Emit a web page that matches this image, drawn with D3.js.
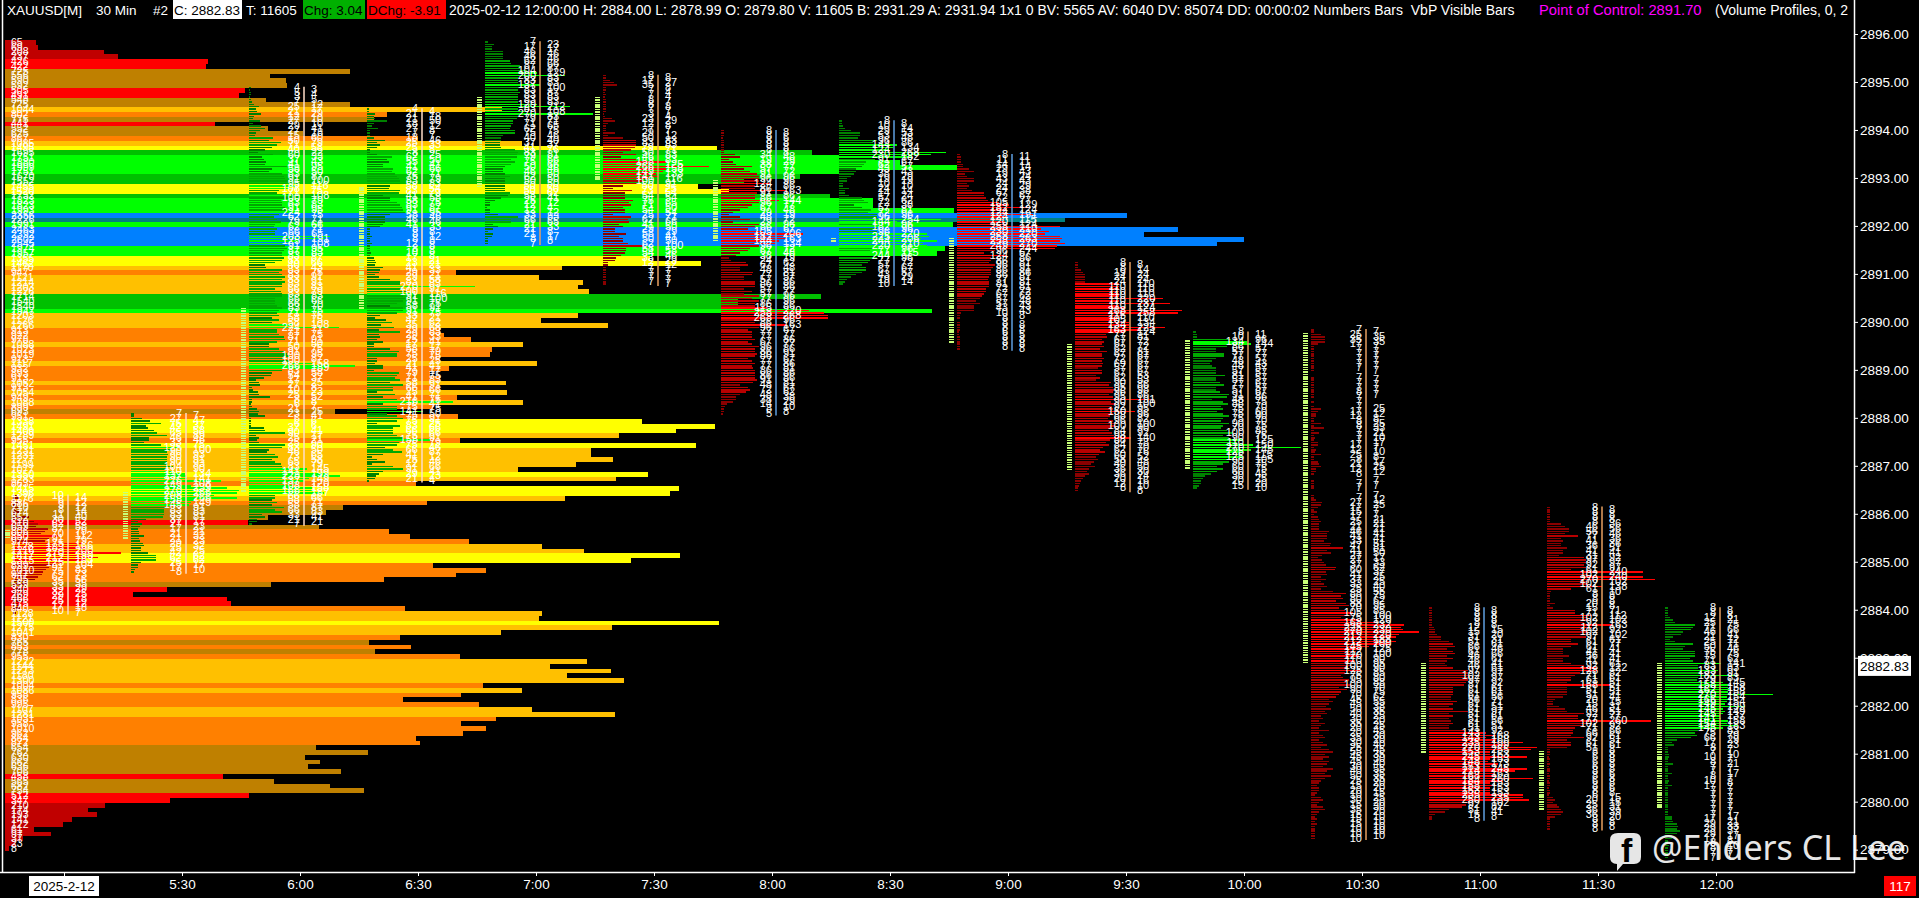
<!DOCTYPE html>
<html><head><meta charset="utf-8">
<script src="https://cdnjs.cloudflare.com/ajax/libs/d3/7.8.5/d3.min.js"></script>
<style>html,body{margin:0;padding:0;background:#000;overflow:hidden}svg{display:block;font-family:"Liberation Sans",Arial,sans-serif}</style>
</head><body><svg id="c" width="1919" height="898"></svg>
<script>
// ---- data ----
const priceTicks = d3.range(2879, 2897);
const barTimes = ["5:00","5:30","6:00","6:30","7:00","7:30","8:00","8:30","9:00","9:30","10:00","10:30","11:00","11:30","12:00"];
const barUp = [0,1,1,1,1,0,0,1,0,0,1,0,0,0,1];
const barTop = [2886.40,2888.10,2894.90,2894.45,2895.85,2895.15,2894.00,2894.20,2893.50,2891.25,2889.80,2889.85,2884.05,2886.15,2884.05];
const lineTone = ["p","p","p","p","o","o","b","b","b","o","o","o","b","o","o"];
const ladderHi = [2885.67,2886.46,2890.29,2892.81,2894.69,2894.69,2892.96,2891.75,2891.75,2889.54,2889.62,2889.77,2882.90,2881.06,2882.90];
const ladderLo = [2885.48,2885.48,2886.42,2890.27,2892.77,2892.92,2891.67,2891.67,2889.56,2886.90,2886.90,2882.85,2881.02,2879.83,2879.83];
const vbpTop = 2895.875;
const vbpVol = [65,69,208,237,426,422,725,556,590,592,505,491,548,725,1044,802,775,441,552,625,867,1085,1495,1695,1751,1880,1999,1751,1670,1552,1455,1520,1732,1823,1823,1993,2356,2226,1991,2463,2392,2602,2545,1974,1957,1355,1462,1170,947,1121,1214,1203,1226,1714,1540,1540,1947,1203,1126,1266,913,922,978,1088,1023,1019,913,1117,932,893,913,1052,913,1054,949,1088,899,693,951,1338,1491,1409,1289,955,1451,1231,1231,1277,1199,1077,1350,1283,863,1415,1396,1176,886,710,674,552,510,659,806,850,974,1128,1216,1417,1315,899,1010,947,795,559,340,269,466,475,840,1128,1121,1500,1275,1041,830,765,853,778,955,1222,1144,1273,1180,1300,1004,1086,958,836,995,1107,1281,1031,958,1010,962,864,872,654,762,630,662,636,706,458,565,682,754,512,347,210,174,193,141,122,61,97,37,23,8];
const bar0500 = [10,14,6,12,9,12,8,14,11,40,30,52,62,58,87,79,70,112,91,79,175,166,183,200,270,190,212,183,125,104,91,83,75,73,62,56,35,35,33,29,32,25,29,18,25,12,17,18,10,7];
const bar0530 = [7,7,27,47,75,37,42,58,65,89,46,46,33,75,125,100,90,93,90,91,90,93,104,90,110,134,137,141,226,108,149,239,270,266,208,266,158,149,145,91,83,83,83,81,37,17,27,23,17,21,21,32,21,23,29,32,25,25,42,62,62,62,25,17,17,10,8];
const bar0600 = [4,3,5,4,3,5,7,12,25,17,21,29,12,10,27,10,29,41,27,18,15,60,50,79,71,58,40,22,60,33,37,43,41,95,58,50,83,87,91,100,95,116,108,75,71,108,100,79,83,83,91,95,224,75,62,71,79,66,62,71,66,65,203,191,125,108,91,95,87,83,83,87,83,66,40,43,83,75,83,91,83,91,83,83,66,79,83,83,66,66,66,70,83,75,71,75,58,75,58,108,224,71,71,75,87,91,71,50,50,75,91,95,100,87,100,158,266,189,83,58,54,37,17,25,27,8,10,23,25,52,8,8,6,7,21,25,23,41,6,6,6,6,37,41,90,17,25,21,25,90,83,50,46,65,73,58,65,79,83,145,141,199,228,149,137,120,108,158,166,187,66,66,58,71,58,87,66,83,33,41,21,21,7];
const bar0630 = [4,4,21,18,21,50,18,12,27,8,7,7,18,46,25,33,25,8,8,25,62,50,55,41,41,66,62,71,75,79,83,83,58,54,83,79,41,58,58,75,83,87,91,95,58,46,46,46,41,33,8,8,8,12,8,8,12,8,8,8,10,8,17,21,23,21,41,33,29,21,29,58,83,83,270,91,100,116,91,100,91,75,58,91,91,75,33,21,47,62,35,68,29,83,29,33,25,41,17,17,58,79,75,75,25,25,21,41,41,17,79,75,71,83,58,91,66,66,25,71,41,75,216,41,75,75,141,50,75,91,75,25,83,66,66,66,75,91,158,79,75,46,66,87,41,12,25,46,12,66,91,41,29,23,21,4];
const bar0700 = [7,23,17,17,46,46,46,46,62,66,87,87,104,129,200,83,83,83,137,100,83,87,83,83,83,83,129,212,83,108,270,83,79,71,71,65,62,75,75,46,40,40,37,37,41,76,83,81,79,66,75,66,50,46,46,50,62,50,50,50,50,50,50,62,58,41,25,12,12,4,12,12,33,83,66,65,21,33,21,8,21,17,8,8,7];
const bar0730 = [8,8,17,27,35,8,7,4,7,4,8,7,8,8,7,7,3,4,23,29,12,8,7,7,29,12,50,83,83,83,79,71,50,83,46,83,158,125,266,158,149,133,141,116,100,91,50,25,73,54,54,54,75,65,71,50,54,54,25,71,62,66,41,50,29,29,58,41,50,50,62,100,58,58,54,46,33,29,12,12,7,7,7,7,7,7,7,7];
const bar0800 = [8,8,8,6,8,8,8,8,8,8,34,48,19,29,38,77,57,72,91,96,96,96,124,86,86,163,91,86,86,144,96,77,67,48,29,19,48,72,29,96,86,67,105,206,182,163,144,134,96,72,67,48,38,19,24,62,67,48,48,81,77,57,57,86,86,86,57,77,57,96,77,96,86,86,115,220,258,268,268,96,86,163,96,67,77,77,77,86,67,77,96,86,86,91,86,67,77,86,77,81,86,86,86,86,91,81,48,67,72,62,48,38,38,29,14,10,8,8,5];
const bar0830 = [8,8,10,14,29,53,53,48,96,86,144,134,124,268,230,182,91,67,62,57,43,43,38,29,19,19,10,10,24,14,14,24,57,62,72,38,57,81,72,96,96,254,144,96,182,96,96,220,225,206,244,210,220,96,77,115,244,96,77,72,57,67,67,57,43,29,19,14,10];
const bar0900 = [8,11,11,11,14,14,29,43,19,24,43,43,24,29,24,38,67,67,72,77,105,129,182,124,124,191,124,115,120,124,258,210,230,220,258,263,258,270,249,244,96,67,124,86,86,81,96,91,86,86,86,81,77,81,81,81,72,72,67,62,57,48,57,43,43,43,10,8,8,0,8,8,8,8,6,5,8,8,8,8,8,8];
const bar0930 = [8,8,8,14,19,24,24,24,24,110,110,110,110,110,110,220,110,237,110,124,268,258,115,110,105,134,134,225,163,124,77,81,67,72,67,72,62,81,67,67,72,67,69,67,57,67,67,53,62,53,90,86,95,98,96,86,95,191,90,100,92,95,150,96,88,82,96,100,100,90,84,92,98,140,88,78,84,70,62,76,60,52,58,48,40,50,36,30,36,24,20,16,12,10,8,8];
const bar1000 = [8,11,10,96,134,144,86,57,57,77,77,57,48,43,48,57,57,57,81,57,57,67,77,57,57,67,91,86,48,75,88,70,75,60,75,90,75,70,90,75,70,85,100,75,90,125,110,150,270,145,125,115,125,105,90,75,60,75,60,45,30,25,20,20,15,10];
const bar1030 = [7,7,25,35,35,35,17,7,7,7,7,7,7,7,7,7,7,7,0,0,7,7,7,7,7,7,8,7,7,0,7,0,7,25,17,12,12,8,8,25,8,33,7,21,7,10,7,17,17,7,12,10,25,8,8,17,21,25,12,12,8,0,0,7,7,7,7,0,0,7,7,12,27,25,17,7,15,7,17,21,25,21,21,21,46,41,41,41,33,51,47,81,41,50,27,17,27,33,37,62,60,37,41,25,37,25,33,40,25,55,88,75,80,62,88,95,70,85,105,100,75,120,168,232,225,230,270,220,212,188,212,200,145,125,112,100,120,90,110,95,100,90,125,85,75,80,95,88,100,70,90,75,70,62,45,55,45,38,50,35,40,25,30,20,35,25,20,45,20,30,35,20,30,40,25,45,55,35,45,30,45,40,30,55,40,35,50,35,25,20,15,20,20,15,10,25,30,20,15,30,35,20,15,10,15,10,15,10,10,10,10,10,10];
const bar1100 = [8,8,8,8,8,8,8,8,12,15,15,20,31,31,51,61,66,46,61,66,46,61,46,41,46,61,97,97,102,97,97,92,87,61,61,61,61,56,56,71,61,51,61,97,51,61,51,56,61,51,51,92,143,168,143,168,235,199,270,255,153,153,245,153,148,173,153,245,214,163,168,260,184,153,158,153,153,153,235,235,250,102,92,82,51,41,15,8,8];
const bar1130 = [8,8,8,8,8,8,8,36,46,56,56,46,77,36,41,36,36,51,41,41,31,92,97,97,92,97,61,240,102,240,270,102,102,138,61,10,8,8,8,8,20,8,15,71,71,112,102,102,92,163,112,92,102,102,97,61,61,77,61,41,41,41,56,41,41,61,92,122,128,82,71,61,61,51,158,51,51,51,51,41,20,15,15,31,46,51,92,77,77,260,102,92,71,66,66,61,92,51,61,61,51,8,8,8,6,8,6,8,6,8,8,6,8,8,6,8,8,6,8,8,6,15,20,15,25,31,36,39,36,20,8,8,8,8,8];
const bar1200 = [8,8,8,8,12,21,25,75,71,66,46,41,21,12,25,71,50,46,75,75,75,62,71,141,83,83,133,91,183,83,79,145,158,158,162,158,270,154,166,154,149,199,145,149,145,137,141,158,154,183,145,83,75,79,66,29,17,23,8,7,7,10,10,7,8,21,7,7,7,17,8,7,10,8,17,7,7,7,7,7,7,7,7,7,7,7,7,17,17,21,29,33,29,37,29,17,17,8,8,10,8,7,7,7,7];
const barVols = [bar0500,bar0530,bar0600,bar0630,bar0700,bar0730,bar0800,bar0830,bar0900,bar0930,bar1000,bar1030,bar1100,bar1130,bar1200];
const headerLeft = ["XAUUSD[M]","30 Min","#2"];
const lastPrice = 2882.83;

// ---- scales ----
const parseT = d3.timeParse("%Y-%m-%d %H:%M");
const toT = s => parseT("2025-02-12 " + s);
const W = 1854, B = 872;
const x = d3.scaleTime().domain([toT("5:00"), toT("12:00")]).range([64, 1716]);
const y = d3.scaleLinear().domain([2896, 2879]).range([34, 34 + 17 * 47.98]);
const vbpX = d3.scaleLinear().domain([0, 2602]).range([5, 1244]);
const rowLen = d3.scaleLinear().domain([0, 270]).range([0, 108]);
const vbpColor = d3.scaleThreshold().domain([250,530,790,1035,1305,1525,1745,2100,2300])
  .range(["#c00000","#ff0000","#bf8000","#ff8000","#ffc000","#ffff00","#00c000","#00ff00","#008080","#0080ff"]);
const upColor = d3.scaleThreshold().domain([60,105]).range(["#008000","#00a800","#00ff00"]);
const dnColor = d3.scaleThreshold().domain([60,105]).range(["#8b0000","#b80000","#ff0000"]);
const toneColor = {p:"#ffdcc8", o:"#e8a060", b:"#5f9fe0"};
const tickStep = 0.05, vbpStep = 0.1;

const svg = d3.select("#c");
svg.append("rect").attr("width",1919).attr("height",898).attr("fill","#000");
const clip = svg.append("defs").append("clipPath").attr("id","plot").append("rect").attr("width",W).attr("height",898);
const plot = svg.append("g").attr("clip-path","url(#plot)");

// volume profile
const rowH = y(2895) - y(2895.1);
plot.append("g").attr("shape-rendering","crispEdges").selectAll("rect").data(vbpVol).join("rect")
  .attr("x", vbpX(0))
  .attr("y", (d,i) => y(vbpTop - i*vbpStep))
  .attr("width", d => vbpX(d) - vbpX(0))
  .attr("height", rowH)
  .attr("fill", d => vbpColor(d));

// bars
barVols.forEach((vols, b) => {
  const t = x(toT(barTimes[b])), g = plot.append("g");
  const x0 = t - 51, cx = t + 4, yTop = barTop[b];
  // lime ladder
  const nL = Math.round((ladderHi[b]-ladderLo[b])/tickStep);
  g.append("g").attr("shape-rendering","crispEdges").selectAll("rect").data(d3.range(nL)).join("rect")
    .attr("x", t-59).attr("width",5).attr("height",1.5)
    .attr("y", i => y(ladderHi[b]-i*tickStep))
    .attr("fill","#c8ff78");
  // footprint rows
  const col = barUp[b] ? upColor : dnColor;
  g.append("g").attr("shape-rendering","crispEdges").selectAll("rect").data(vols).join("rect")
    .attr("x", x0).attr("height",1.5)
    .attr("y",(d,i)=>y(yTop - i*tickStep))
    .attr("width", d => rowLen(d))
    .attr("fill", d => col(d));
  // centre line
  g.append("line").attr("x1",cx).attr("x2",cx).attr("y1",y(yTop)).attr("y2",y(yTop-(vols.length)*tickStep))
    .attr("stroke",toneColor[lineTone[b]]).attr("stroke-width",1.5);
  // numbers
  const labels = g.append("g").attr("fill","#fff").attr("font-size",11);
  labels.selectAll("text").data(vols.map((v,i)=>({v,i})).filter(d=>d.v>0)).join("text")
    .attr("x", d => d.i%2 ? cx+7 : cx-4)
    .attr("text-anchor", d => d.i%2 ? "start" : "end")
    .attr("y", d => y(yTop - d.i*tickStep)+4)
    .text(d => d.v);
});

// VbP labels
plot.append("g").attr("fill","#fff").attr("font-size",10.5).selectAll("text").data(vbpVol).join("text")
  .attr("x",11).attr("y",(d,i)=>y(vbpTop - i*vbpStep)+rowH/2+3.5).text(d=>d);

// header
const hdr = svg.append("g").attr("font-size",13.5).attr("fill","#fff");
function boxText(txt,xp,w,bg,fg,fs){
  if(bg) hdr.append("rect").attr("x",xp).attr("y",0).attr("width",w).attr("height",19).attr("fill",bg);
  const t = hdr.append("text").attr("x",xp+(bg?1:0)).attr("y",14.5).attr("fill",fg||"#fff").text(txt);
  if(fs) t.attr("font-size",fs);
}
boxText(headerLeft[0],7); boxText(headerLeft[1],96); boxText(headerLeft[2],153);
boxText("C: 2882.83",173,69,"#fff","#000");
boxText("T: 11605",246);
boxText("Chg: 3.04",303,62,"#00b000","#000");
boxText("DChg: -3.91",367,79,"#ff0000","#000");
boxText("2025-02-12 12:00:00 H: 2884.00 L: 2878.99 O: 2879.80 V: 11605 B: 2931.29 A: 2931.94 1x1 0 BV: 5565 AV: 6040 DV: 85074 DD: 00:00:02 Numbers Bars\u00a0\u00a0VbP Visible Bars",449,0,null,"#fff",14);
hdr.append("text").attr("x",1539).attr("y",14.5).attr("font-size",14.7).attr("fill","#ff00ff").text("Point of Control: 2891.70");
hdr.append("text").attr("x",1715).attr("y",14.5).attr("font-size",14).attr("clip-path","url(#plot)").text("(Volume Profiles, 0, 2");

// axes
const yAxis = d3.axisRight(y).tickValues(priceTicks).tickSize(4).tickPadding(2).tickFormat(d3.format(".2f"));
const gy = svg.append("g").attr("transform",`translate(${W},0)`).call(yAxis);
const xTicks = barTimes.map(toT);
const xAxis = d3.axisBottom(x).tickValues(xTicks).tickSize(4).tickPadding(3)
  .tickFormat((d,i)=> i===0 ? "" : d3.timeFormat("%-H:%M")(d));
const gx = svg.append("g").attr("transform",`translate(0,${B})`).call(xAxis);
[gy,gx].forEach(g=>{
  g.selectAll("path").remove();
  g.selectAll("line").attr("stroke","#fff");
  g.selectAll("text").attr("fill","#fff").attr("font-size",13.5).attr("font-family",'"Liberation Sans",Arial,sans-serif');
});
svg.append("line").attr("x1",W+.5).attr("x2",W+.5).attr("y1",0).attr("y2",B+1).attr("stroke","#fff").attr("stroke-width",1.5);
svg.append("line").attr("x1",0).attr("x2",W+1).attr("y1",B+.5).attr("y2",B+.5).attr("stroke","#fff").attr("stroke-width",1.5);
svg.append("line").attr("x1",2.5).attr("x2",2.5).attr("y1",0).attr("y2",B).attr("stroke","#fff").attr("stroke-width",1.5);

// date box, last price, red counter
svg.append("rect").attr("x",29).attr("y",876).attr("width",70).attr("height",20).attr("fill","#fff");
svg.append("text").attr("x",64).attr("y",891).attr("text-anchor","middle").attr("font-size",13.5).attr("fill","#000").text("2025-2-12");
svg.append("rect").attr("x",1858).attr("y",y(lastPrice)-10).attr("width",53).attr("height",20).attr("fill","#fff");
svg.append("text").attr("x",1884.5).attr("y",y(lastPrice)+5).attr("text-anchor","middle").attr("font-size",13.5).attr("fill","#000").text(lastPrice.toFixed(2));
svg.append("rect").attr("x",1884).attr("y",876).attr("width",32).attr("height",20).attr("fill","#ff0000");
svg.append("text").attr("x",1900).attr("y",891).attr("text-anchor","middle").attr("font-size",13.5).attr("fill","#fff").text("117");

// watermark
const wm = svg.append("g").attr("opacity",0.9);
wm.append("path").attr("fill","#fff").attr("d","M1618 833h16q7 0 7 7v17q0 7-7 7h-11l-6 7v-7q-7 0-7-7v-17q0-7 8-7z");
wm.append("text").attr("x",1621).attr("y",862).attr("font-size",34).attr("font-weight","bold").attr("fill","#000").text("f");
wm.append("text").attr("x",1652).attr("y",860).attr("font-family",'"Noto Sans",sans-serif').attr("font-size",34).attr("fill","#fff").text("@Enders CL Lee");
</script></body></html>
